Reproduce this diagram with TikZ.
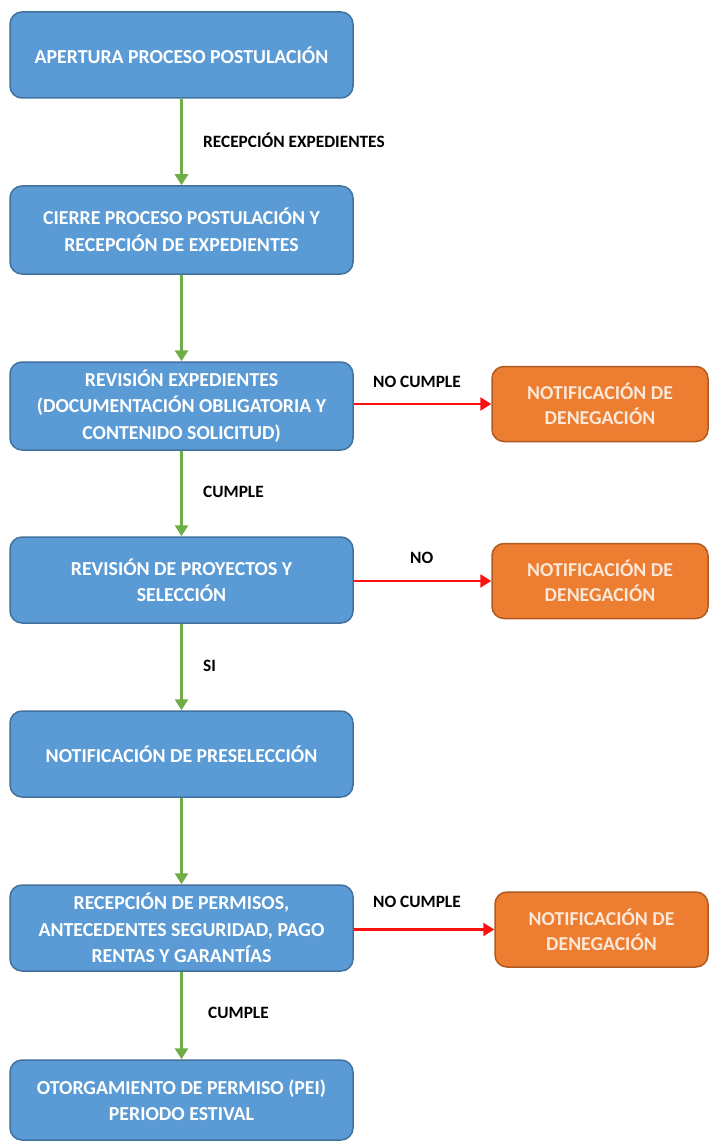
\documentclass[tikz,border=0pt]{standalone}
\usepackage{fontspec}
\setmainfont{Carlito}
\usetikzlibrary{arrows.meta}
\definecolor{bluefill}{HTML}{5B9BD5}
\definecolor{blueedge}{HTML}{41719C}
\definecolor{orangefill}{HTML}{ED7D31}
\definecolor{orangeedge}{HTML}{AE5A21}
\definecolor{orangetext}{HTML}{FCE8D8}
\definecolor{greenline}{HTML}{70AD47}
\definecolor{redline}{HTML}{FF1010}
\begin{document}
\begin{tikzpicture}[x=1pt,y=-1pt,
  bluebox/.style={draw=blueedge, fill=bluefill, rounded corners=12pt, line width=1.5pt,
    text=white, font=\bfseries\fontsize{19.8}{26.5}\selectfont, align=center,
    minimum width=343pt, inner sep=0pt},
  orangebox/.style={draw=orangeedge, fill=orangefill, rounded corners=12pt, line width=1.5pt,
    text=orangetext, font=\bfseries\fontsize{19.7}{25}\selectfont, align=center,
    minimum width=216pt, minimum height=75pt, inner sep=0pt},
  greenarrow/.style={draw=greenline, line width=3pt, -{Triangle[length=11pt,width=13pt]}},
  redarrow/.style={draw=redline, line width=2.5pt, -{Triangle[length=11pt,width=13pt]}},
  lbl/.style={font=\bfseries\fontsize{17.3}{20}\selectfont, text=black, anchor=west, inner sep=0pt}
]
\useasboundingbox (0,0) rectangle (710,1142);

\node[bluebox, minimum height=86pt] (b1) at (181.5,55) {APERTURA PROCESO POSTULACIÓN};
\node[bluebox, minimum height=88pt] (b2) at (181.5,230) {CIERRE PROCESO POSTULACIÓN Y\\RECEPCIÓN DE EXPEDIENTES};
\node[bluebox, minimum height=88pt] (b3) at (181.5,406) {REVISIÓN EXPEDIENTES\\(DOCUMENTACIÓN OBLIGATORIA Y\\CONTENIDO SOLICITUD)};
\node[bluebox, minimum height=86pt] (b4) at (181.5,580) {REVISIÓN DE PROYECTOS Y\\SELECCIÓN};
\node[bluebox, minimum height=86pt] (b5) at (181.5,754) {NOTIFICACIÓN DE PRESELECCIÓN};
\node[bluebox, minimum height=86pt] (b6) at (181.5,928) {RECEPCIÓN DE PERMISOS,\\ANTECEDENTES SEGURIDAD, PAGO\\RENTAS Y GARANTÍAS};
\node[bluebox, minimum height=80pt] (b7) at (181.5,1100) {OTORGAMIENTO DE PERMISO (PEI)\\PERIODO ESTIVAL};

\node[orangebox] (o1) at (600,404) {NOTIFICACIÓN DE\\DENEGACIÓN};
\node[orangebox] (o2) at (600,581) {NOTIFICACIÓN DE\\DENEGACIÓN};
\node[orangebox, minimum width=213pt] (o3) at (601.5,929.5) {NOTIFICACIÓN DE\\DENEGACIÓN};

\draw[greenarrow] (b1.south) -- (b2.north);
\draw[greenarrow] (b2.south) -- (b3.north);
\draw[greenarrow] (b3.south) -- (b4.north);
\draw[greenarrow] (b4.south) -- (b5.north);
\draw[greenarrow] (b5.south) -- (b6.north);
\draw[greenarrow] (b6.south) -- (b7.north);

\draw[redarrow] (b3.east |- o1.west) -- (o1.west);
\draw[redarrow] (b4.east |- o2.west) -- (o2.west);
\draw[redarrow] (b6.east |- o3.west) -- (o3.west);

\node[lbl] (l1) at (203,140) {RECEPCIÓN EXPEDIENTES};
\node[lbl] (l2) at (373,382) {NO CUMPLE};
\node[lbl] (l3) at (203,492) {CUMPLE};
\node[lbl] (l4) at (410,558) {NO};
\node[lbl] (l5) at (203,666) {SI};
\node[lbl] (l6) at (373,902) {NO CUMPLE};
\node[lbl] (l7) at (208,1013) {CUMPLE};
\end{tikzpicture}
\end{document}
